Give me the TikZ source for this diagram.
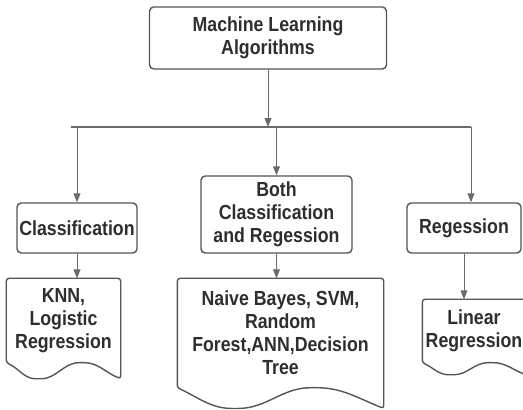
\documentclass[tikz,border=0pt]{standalone}
\usepackage{fontspec}
\setmainfont{Liberation Sans}[FakeStretch=0.87]
\usetikzlibrary{arrows.meta, calc}

\definecolor{boxgray}{HTML}{555555}
\definecolor{linegray}{HTML}{6A6A6A}
\definecolor{textgray}{HTML}{2E2E2E}

% outline of a document shape round a node, wavy bottom
\newcommand{\docoutline}[1]{%
    \coordinate (#1-bl) at ($(#1.south west)!-0.19!(#1.north west)$);
    \coordinate (#1-br) at ($(#1.south east)!-0.19!(#1.north east)$);
    \draw [draw=boxgray, line width=1pt, rounded corners=2pt]
        (#1.south west) -- (#1.north west) -- (#1.north east) -- (#1-br)
        to [out=158, in=0] ($(#1.south west)!0.66!(#1.south east)$)
        to [out=180, in=0] ($(#1-bl)!0.28!(#1-br)$)
        to [out=180, in=-25] (#1.south west) -- cycle;
}

\begin{document}
\begin{tikzpicture}
\useasboundingbox (0, 0) rectangle (13.075, 10.25);
\clip (0, 0) rectangle (13.075, 10.25);

\begin{scope}[every node/.style={rectangle,rounded corners=3pt,draw=boxgray,line width=1pt,
              text=textgray,align=center,inner sep=0pt,
              font=\fontsize{14.5pt}{16.4pt}\selectfont\bfseries}]
    \node (ml) at (6.7, 9.3) [minimum width=5.925cm, minimum height=1.55cm] {Machine Learning\\Algorithms};

    \node (cls) at (1.925, 4.55) [minimum width=3cm, minimum height=1.25cm] {Classification};
    \node (both) at (6.9125, 4.8875) [minimum width=3.775cm, minimum height=1.925cm] {Both\\Classification\\and Regession};
    \node (reg) at (11.6, 4.55) [minimum width=2.85cm, minimum height=1.25cm] {Regession};

    \node (knn) at (1.5875, 2.2375) [draw=none, minimum width=2.825cm, minimum height=2.075cm] {KNN,\\Logistic\\Regression};
    \node (nb) at (7.0125, 1.925) [draw=none, minimum width=5.125cm, minimum height=2.7cm] {Naive Bayes, SVM,\\Random\\Forest,ANN,Decision\\Tree};
    \node (lin) at (11.85, 1.975) [draw=none, minimum width=2.55cm, minimum height=1.55cm] {Linear\\Regression};
\end{scope}

\docoutline{knn}
\docoutline{nb}
\docoutline{lin}

\coordinate (busL) at (1.775, 7.075);
\coordinate (busR) at (11.775, 7.075);

\begin{scope}[>={Triangle[length=0.22cm, width=0.17cm]},
              every edge/.style={draw=linegray, line width=0.7pt}]

    \path [->] (ml) edge (ml |- busL);
    \path [-] (busL) edge [line width=1.4pt] (busR);

    \path [->] (cls |- busL) edge (cls);
    \path [->] (both |- busL) edge (both);
    \path [->] (busR) edge (busR |- reg.north);

    \path [->] (cls) edge (cls |- knn.north);
    \path [->] (both) edge (both |- nb.north);
    \path [->] (reg) edge (reg |- lin.north);
\end{scope}
\end{tikzpicture}
\end{document}
